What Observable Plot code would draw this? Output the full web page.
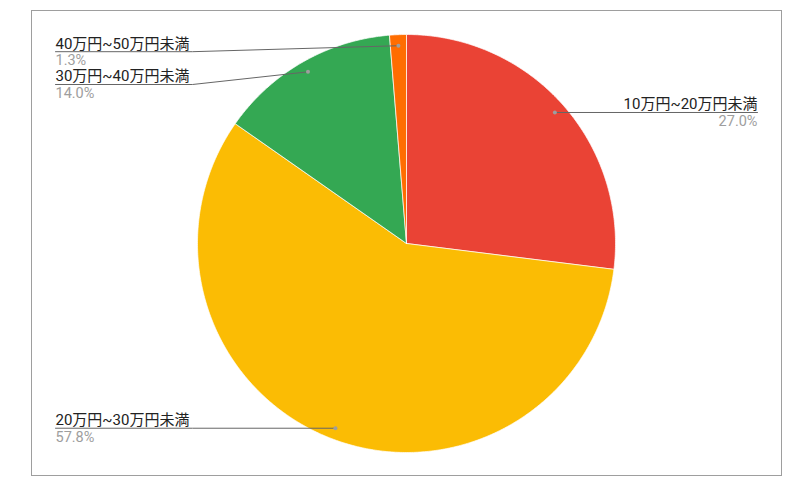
<!DOCTYPE html>
<html>
<head>
<meta charset="utf-8">
<script src="https://cdn.jsdelivr.net/npm/d3@7"></script>
<script src="https://cdn.jsdelivr.net/npm/@observablehq/plot@0.6"></script>
<style>
  html, body { margin: 0; padding: 0; background: #fff; }
  #chart svg { display: block; }
</style>
</head>
<body>
<div id="chart"></div>
<script>
// ---- data ----
const categories = ["10万円~20万円未満", "20万円~30万円未満", "30万円~40万円未満", "40万円~50万円未満"];
const shares = [27.0, 57.8, 14.0, 1.3];
const percentLabels = ["27.0%", "57.8%", "14.0%", "1.3%"];
const colors = ["#EA4335", "#FBBC04", "#34A853", "#FF6D01"];

// ---- layout ----
const W = 806, H = 497;
const mL = 31, mT = 10, mR = 25, mB = 22;
const cx = 406, cy = 243, R = 209;
const fontSize = 15;
const pctSize = 14.5;
const fontFamily = "Roboto, 'Noto Sans CJK JP', sans-serif";
const labelInset = 24;       // label distance from frame edge
const anchorFrac = 0.947;    // leader dot radius fraction
const blockH = 32.8;         // label block height
const ux = px => (px - cx) / R;
const uy = py => (cy - py) / R;

const data = categories.map((c, i) => ({category: c, share: shares[i], pct: percentLabels[i]}));
const arcs = d3.pie().sort(null).value(d => d.share)(data);

// slice outlines (unit circle coordinates)
const slicePts = arcs.flatMap(a => {
  const n = Math.max(2, Math.ceil((a.endAngle - a.startAngle) / (Math.PI / 360)));
  const pts = [{category: a.data.category, x: 0, y: 0}];
  for (let k = 0; k <= n; k++) {
    const t = a.startAngle + (a.endAngle - a.startAngle) * k / n;
    pts.push({category: a.data.category, x: Math.sin(t), y: Math.cos(t)});
  }
  pts.push({category: a.data.category, x: 0, y: 0});
  return pts;
});

// text measurement
const ctx = document.createElement("canvas").getContext("2d");
ctx.font = `${fontSize}px ${fontFamily}`;
const tw = s => ctx.measureText(s).width;

// label layout
const labels = arcs.map(a => {
  const mid = (a.startAngle + a.endAngle) / 2;
  const ax = cx + R * anchorFrac * Math.sin(mid);
  const ay = cy - R * anchorFrac * Math.cos(mid);
  return {category: a.data.category, pct: a.data.pct, side: mid < Math.PI ? "right" : "left", ax, ay};
});
for (const side of ["left", "right"]) {
  const arr = labels.filter(d => d.side === side).sort((a, b) => a.ay - b.ay);
  let prev = -Infinity;
  for (const d of arr) {
    d.lineY = Math.max(d.ay, prev + blockH, cy - R + 17.2);
    prev = d.lineY;
    const w = tw(d.category);
    if (side === "left") {
      d.tx = mL + labelInset;
      d.bend = d.tx + w + 3;
      d.path = [[d.tx, d.lineY], [d.bend, d.lineY], [d.ax, d.ay]];
    } else {
      d.tx = W - mR - labelInset;
      d.bend = d.tx - w - 3;
      d.path = [[d.tx, d.lineY], [Math.min(d.bend, d.ax), d.lineY], [d.ax, d.ay]];
    }
  }
}
const leaderPts = labels.flatMap(d => d.path.map(([x, y]) => ({category: d.category, x: ux(x), y: uy(y)})));

const left = labels.filter(d => d.side === "left");
const right = labels.filter(d => d.side === "right");

const textMarks = (arr, anchor) => [
  Plot.text(arr, {x: d => ux(d.tx), y: d => uy(d.lineY), text: "category", textAnchor: anchor,
    lineAnchor: "bottom", dy: -3.2, fill: "#222222", fontSize}),
  Plot.text(arr, {x: d => ux(d.tx), y: d => uy(d.lineY), text: "pct", textAnchor: anchor,
    lineAnchor: "bottom", dy: 13.4, fill: "#9e9e9e", fontSize: pctSize})
];

const chart = Plot.plot({
  width: W, height: H,
  marginLeft: mL, marginTop: mT, marginRight: mR, marginBottom: mB,
  style: {fontFamily, background: "#fff"},
  x: {domain: [ux(mL), ux(W - mR)], axis: null},
  y: {domain: [uy(H - mB), uy(mT)], axis: null},
  color: {domain: categories, range: colors},
  marks: [
    Plot.frame({stroke: "#9e9e9e", strokeWidth: 1}),
    Plot.line(slicePts, {x: "x", y: "y", z: "category", fill: "category", stroke: "white", strokeWidth: 0.7}),
    Plot.line(leaderPts, {x: "x", y: "y", z: "category", stroke: "#666666", strokeWidth: 1}),
    Plot.dot(labels, {x: d => ux(d.ax), y: d => uy(d.ay), r: 2, fill: "#9e9e9e"}),
    ...textMarks(left, "start"),
    ...textMarks(right, "end")
  ]
});
document.getElementById("chart").append(chart);
</script>
</body>
</html>
